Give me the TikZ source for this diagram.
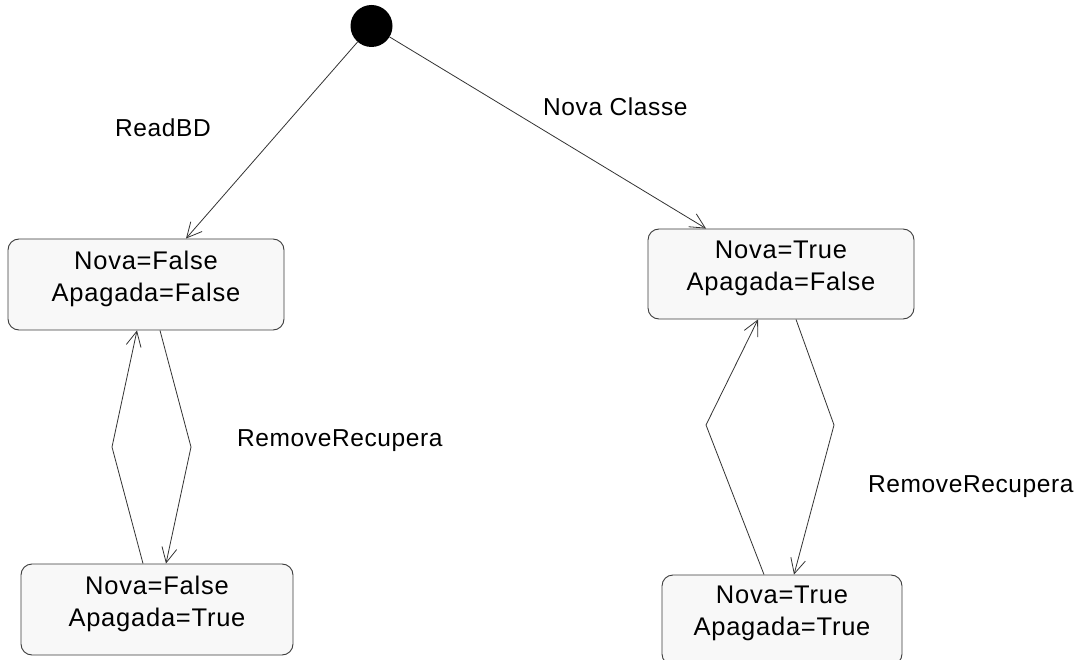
\documentclass[tikz,border=0pt]{standalone}
\usepackage{fontspec}
\setmainfont{Liberation Sans}
\usetikzlibrary{arrows.meta}
\definecolor{boxfill}{HTML}{F8F8F8}
\definecolor{boxline}{HTML}{3C3C3C}
\definecolor{wire}{HTML}{333333}
\begin{document}
\begin{tikzpicture}[x=1pt,y=-1pt,
  state/.style={draw=boxline, fill=boxfill, rounded corners=11pt, line width=0.9pt, inner sep=0pt},
  statetext/.style={anchor=north, inner sep=0pt, align=center,
    font=\fontsize{25.5}{32}\selectfont\addfontfeatures{LetterSpace=3}},
  trans/.style={draw=wire, line width=0.8pt, -{Straight Barb[length=15pt,width=15pt]}},
  tlabel/.style={anchor=base west, inner sep=0pt,
    font=\fontsize{24.5}{30}\selectfont\addfontfeatures{LetterSpace=2.5}}]
  \clip (0,0) rectangle (1079,660);
  \fill[white] (0,0) rectangle (1079,660);

  % initial pseudo-state
  \node[circle, fill=black, minimum size=42pt, inner sep=0pt] (init) at (371.5,26) {};

  % states
  \node[state, minimum width=276pt, minimum height=91pt] (b1) at (146,284.5) {};
  \node[statetext] (t1) at ([yshift=-12pt]b1.north) {Nova=False\\Apagada=False};

  \node[state, minimum width=266pt, minimum height=90pt] (b2) at (781,274) {};
  \node[statetext] (t2) at ([yshift=-12pt]b2.north) {Nova=True\\Apagada=False};

  \node[state, minimum width=272pt, minimum height=91pt] (b3) at (157,609.5) {};
  \node[statetext] (t3) at ([yshift=-12pt]b3.north) {Nova=False\\Apagada=True};

  \node[state, minimum width=240pt, minimum height=90pt] (b4) at (782,620) {};
  \node[statetext] (t4) at ([yshift=-11pt]b4.north) {Nova=True\\Apagada=True};

  % transitions from the initial state
  \draw[trans] (init) -- (b1);
  \draw[trans] (init) -- (b2);

  % remove / recover loops
  \coordinate (l1) at (112,447);
  \coordinate (l2) at (191,447);
  \draw[trans] ([xshift=-14pt]b3.north) -- (l1) -- ([xshift=-9pt]b1.south);
  \draw[trans] ([xshift=14pt]b1.south) -- (l2) -- ([xshift=9pt]b3.north);

  \coordinate (r1) at (706,425);
  \coordinate (r2) at (834,425);
  \draw[trans] ([xshift=-18pt]b4.north) -- (r1) -- ([xshift=-23pt]b2.south);
  \draw[trans] ([xshift=15pt]b2.south) -- (r2) -- ([xshift=12pt]b4.north);

  % transition labels
  \node[tlabel] (la) at (115,137) {ReadBD};
  \node[tlabel] (lb) at (543,116) {Nova Classe};
  \node[tlabel] (lc) at (237,446) {RemoveRecupera};
  \node[tlabel] (ld) at (868,492) {RemoveRecupera};
\end{tikzpicture}
\end{document}
